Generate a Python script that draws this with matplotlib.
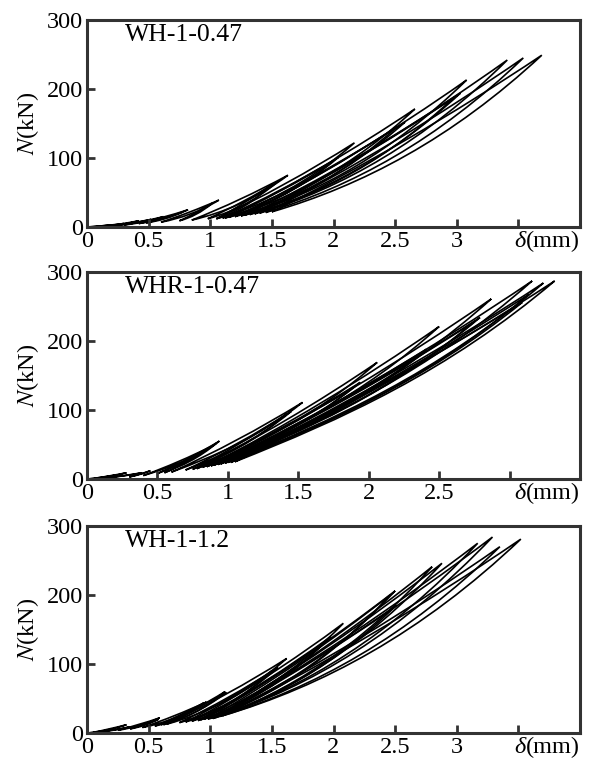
import matplotlib
matplotlib.use("Agg")
import matplotlib.pyplot as plt
from matplotlib.path import Path
from matplotlib.patches import PathPatch

plt.rcParams["font.family"] = ["Liberation Serif", "DejaVu Serif"]
plt.rcParams["mathtext.fontset"] = "stix"

# Data: each loop goes from a valley point up to a peak point and back
names = ["WH-1-0.47", "WHR-1-0.47", "WH-1-1.2"]
x_max = [4.0, 3.5, 4.0]
x_ticks = [[0, 0.5, 1, 1.5, 2, 2.5, 3, 3.5],
           [0, 0.5, 1, 1.5, 2, 2.5, 3],
           [0, 0.5, 1, 1.5, 2, 2.5, 3, 3.5]]

# WH-1-0.47
peak_d1 = [0.20, 0.30, 0.42, 0.52, 0.62, 0.82, 0.78, 1.07, 1.02, 1.63, 1.55, 1.50,
           2.17, 2.04, 2.00, 2.66, 2.58, 2.52, 3.08, 3.03, 2.98, 3.41, 3.54, 3.69]
peak_n1 = [3, 5, 9, 11, 15, 25, 22, 39, 35, 75, 66, 62,
           122, 101, 96, 171, 152, 146, 213, 194, 188, 242, 245, 249]
valley_d1 = [0.00, 0.08, 0.15, 0.22, 0.30, 0.42, 0.48, 0.60, 0.75, 0.85, 0.98, 1.05,
             1.05, 1.10, 1.12, 1.15, 1.20, 1.25, 1.28, 1.32, 1.36, 1.40, 1.45, 1.50]
valley_n1 = [0, 1, 1, 2, 3, 5, 6, 7, 9, 10, 12, 12,
             12, 13, 13, 14, 15, 16, 17, 18, 19, 20, 21, 22]

# WHR-1-0.47
peak_d2 = [0.15, 0.28, 0.39, 0.45, 0.90, 0.94, 0.92, 1.53, 1.45, 1.42, 2.06, 1.94,
           1.90, 2.50, 2.41, 2.38, 2.87, 2.79, 2.75, 3.16, 3.09, 3.24, 3.14, 3.32]
peak_n2 = [3, 9, 9, 12, 49, 55, 52, 111, 98, 95, 169, 140,
           134, 221, 188, 182, 261, 234, 228, 287, 256, 284, 268, 287]
valley_d2 = [0.00, 0.05, 0.15, 0.30, 0.40, 0.50, 0.55, 0.60, 0.70, 0.75, 0.78, 0.82,
             0.85, 0.85, 0.88, 0.90, 0.90, 0.93, 0.95, 0.95, 0.98, 1.00, 1.02, 1.05]
valley_n2 = [0, 1, 2, 3, 5, 8, 9, 10, 13, 14, 15, 17,
             18, 18, 19, 20, 20, 21, 22, 22, 23, 24, 24, 25]

# WH-1-1.2
peak_d3 = [0.15, 0.32, 0.35, 0.59, 0.58, 0.97, 0.95, 1.13, 1.12, 1.62, 1.55, 1.50,
           2.08, 1.98, 1.95, 2.50, 2.46, 2.51, 2.88, 2.80, 3.17, 3.29, 3.35, 3.52]
peak_n3 = [3, 12, 9, 22, 20, 45, 44, 59, 60, 108, 95, 90,
           159, 140, 135, 206, 200, 185, 246, 241, 275, 284, 270, 281]
valley_d3 = [0.00, 0.05, 0.12, 0.25, 0.35, 0.45, 0.55, 0.60, 0.62, 0.65, 0.75, 0.80,
             0.85, 0.90, 0.92, 0.95, 0.98, 1.00, 1.02, 1.04, 1.05, 1.07, 1.08, 1.10]
valley_n3 = [0, 1, 2, 4, 6, 8, 10, 12, 12, 13, 15, 16,
             17, 18, 19, 20, 20, 21, 21, 22, 23, 24, 24, 25]

panels = [(peak_d1, peak_n1, valley_d1, valley_n1),
          (peak_d2, peak_n2, valley_d2, valley_n2),
          (peak_d3, peak_n3, valley_d3, valley_n3)]

# start / end slopes of the branches, relative to the chord valley->peak
upper_slopes = (0.85, 1.15)
lower_slopes = [(0.50, 1.60), (0.70, 1.50), (0.50, 1.60)]


def branch(d0, n0, d1, n1, s0, s1):
    dd, dn = d1 - d0, n1 - n0
    c1 = (d0 + dd / 3, n0 + s0 * dn / 3)
    c2 = (d1 - dd / 3, n1 - s1 * dn / 3)
    return c1, c2


fig = plt.figure(figsize=(5.89, 7.58), dpi=100)
left, width = 87 / 589, 493 / 589
bottoms = [1 - 227 / 758, 1 - 479 / 758, 1 - 733 / 758]
height = 207 / 758
spine_col = "#333333"
fs = 17.5

for i in range(3):
    ax = fig.add_axes([left, bottoms[i], width, height])
    pd, pn, vd, vn = panels[i]
    for d1, n1, d0, n0 in zip(pd, pn, vd, vn):
        u1, u2 = branch(d0, n0, d1, n1, *upper_slopes)
        l1, l2 = branch(d0, n0, d1, n1, *lower_slopes[i])
        verts = [(d0, n0), u1, u2, (d1, n1), l2, l1, (d0, n0)]
        codes = [Path.MOVETO] + [Path.CURVE4] * 6
        ax.add_patch(PathPatch(Path(verts, codes), facecolor="none",
                               edgecolor="black", lw=1.2, joinstyle="miter"))

    ax.set_xlim(0, x_max[i])
    ax.set_ylim(0, 300)
    ax.set_yticks([0, 100, 200, 300])
    ax.set_xticks(x_ticks[i])
    labels = [("%g" % t) for t in x_ticks[i]]
    labels[-1] = ""
    ax.set_xticklabels(labels)
    ax.tick_params(direction="in", length=6, width=2, color=spine_col,
                   labelsize=fs, top=False, right=False)
    ax.tick_params(axis="x", pad=3)
    ax.tick_params(axis="y", pad=3)
    for s in ax.spines.values():
        s.set_linewidth(2.2)
        s.set_color(spine_col)
    ax.set_ylabel("$N$(kN)", fontsize=fs, labelpad=4)
    # x label "δ(mm)" sits at the place of the last tick label
    ax.annotate("(mm)", xy=(1, 0), xycoords="axes fraction",
                xytext=(0, -14.5), textcoords="offset points",
                ha="right", va="baseline", fontsize=fs)
    ax.annotate("δ", xy=(1, 0), xycoords="axes fraction",
                xytext=(-39, -14.5), textcoords="offset points",
                ha="right", va="baseline", fontsize=fs, fontstyle="italic")
    ax.text(0.077, 0.928, names[i], transform=ax.transAxes,
            ha="left", va="center", fontsize=18.5)

fig.savefig("out.png", dpi=100)
